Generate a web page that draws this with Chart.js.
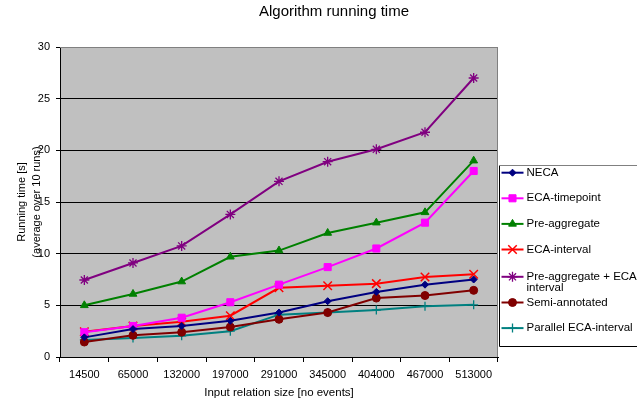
<!DOCTYPE html>
<html>
<head>
<meta charset="utf-8">
<title>Algorithm running time</title>
<script src="https://cdn.jsdelivr.net/npm/chart.js@4/dist/chart.umd.min.js"></script>
<style>
  html, body { margin: 0; padding: 0; background: #ffffff; }
  #wrap { width: 637px; height: 400px; position: relative; }
</style>
</head>
<body>
<div id="wrap"><canvas id="chart" width="637" height="400"></canvas></div>
<script>
// Input sizes (number of events) on the x axis
const inputSizes = ['14500', '65000', '132000', '197000', '291000', '345000', '404000', '467000', '513000'];

// Running times in seconds, averaged over 10 runs
const neca            = [1.9, 2.7, 3.0, 3.5, 4.3, 5.4, 6.3, 7.0, 7.5];
const ecaTimepoint    = [2.4, 3.0, 3.8, 5.3, 7.0, 8.7, 10.5, 13.0, 18.0];
const preAggregate    = [5.0, 6.1, 7.3, 9.7, 10.3, 12.0, 13.0, 14.0, 19.0];
const ecaInterval     = [2.45, 3.0, 3.4, 4.0, 6.7, 6.9, 7.1, 7.75, 8.0];
const preAggEca       = [7.45, 9.1, 10.75, 13.8, 17.0, 18.9, 20.1, 21.75, 27.0];
const semiAnnotated   = [1.45, 2.1, 2.4, 2.9, 3.65, 4.3, 5.7, 5.95, 6.45];
const parallelEca     = [1.65, 1.85, 2.05, 2.5, 4.1, 4.3, 4.55, 4.9, 5.05];

const yTicks = [0, 5, 10, 15, 20, 25, 30];

const FONT = "'Liberation Sans', Arial, sans-serif";

function series(label, data, color, style, radius, bw) {
  return {
    label: label,
    data: data,
    borderColor: color,
    backgroundColor: color,
    borderWidth: 2,
    pointStyle: style,
    pointRadius: radius,
    pointHoverRadius: radius,
    pointBorderWidth: bw,
    pointBorderColor: color,
    pointBackgroundColor: color,
    tension: 0
  };
}

const datasets = [
  series('NECA', neca, '#000080', 'rectRot', 3.5, 1),
  series('ECA-timepoint', ecaTimepoint, '#FF00FF', 'rect', 5, 1),
  series('Pre-aggregate', preAggregate, '#008000', 'triangle', 4.5, 1),
  series('ECA-interval', ecaInterval, '#FF0000', 'crossRot', 6, 1.5),
  series('Pre-aggregate + ECA-interval', preAggEca, '#800080', 'star', 5, 1.3),
  series('Semi-annotated', semiAnnotated, '#800000', 'circle', 4, 1),
  series('Parallel ECA-interval', parallelEca, '#008080', 'cross', 4.5, 1.3)
];

// Grey plot background and the grey top/right frame
const plotFrame = {
  id: 'plotFrame',
  beforeDraw(chart) {
    const { ctx, chartArea: a } = chart;
    ctx.save();
    ctx.fillStyle = '#C0C0C0';
    ctx.fillRect(a.left, a.top, a.right - a.left, a.bottom - a.top);
    ctx.restore();
  },
  beforeDatasetsDraw(chart) {
    const { ctx, chartArea: a } = chart;
    ctx.save();
    ctx.strokeStyle = '#808080';
    ctx.lineWidth = 1;
    ctx.beginPath();
    ctx.moveTo(a.left, a.top + 0.5);
    ctx.lineTo(a.right - 0.5, a.top + 0.5);
    ctx.lineTo(a.right - 0.5, a.bottom);
    ctx.stroke();
    ctx.restore();
  }
};

// Chart title, centred over the whole figure
const figureTitle = {
  id: 'figureTitle',
  afterDraw(chart) {
    const ctx = chart.ctx;
    ctx.save();
    ctx.fillStyle = '#000';
    ctx.font = '15px ' + FONT;
    ctx.textAlign = 'center';
    ctx.textBaseline = 'middle';
    ctx.fillText('Algorithm running time', 334, 11.5);
    ctx.restore();
  }
};

function wrapText(ctx, text, maxWidth) {
  if (ctx.measureText(text).width <= maxWidth) return [text];
  const parts = text.split(/(?<=[ -])/);
  const lines = [];
  let cur = '';
  for (const p of parts) {
    if (cur && ctx.measureText(cur + p).width > maxWidth) {
      lines.push(cur);
      cur = p;
    } else {
      cur += p;
    }
  }
  if (cur) lines.push(cur);
  return lines;
}

// Boxed legend to the right of the plot
const sideLegend = {
  id: 'sideLegend',
  afterDraw(chart) {
    const ctx = chart.ctx;
    const left = chart.chartArea.right + 1.5;
    const top = 165.5;
    const bottom = 346.5;
    ctx.save();
    ctx.fillStyle = '#fff';
    ctx.fillRect(left, top, 200, bottom - top);
    ctx.strokeStyle = '#000';
    ctx.lineWidth = 1;
    ctx.beginPath();
    ctx.moveTo(left, top);
    ctx.lineTo(left, bottom);
    ctx.lineTo(700, bottom);
    ctx.stroke();
    ctx.strokeStyle = '#808080';
    ctx.beginPath();
    ctx.moveTo(left, top);
    ctx.lineTo(700, top);
    ctx.stroke();

    ctx.font = '11.5px ' + FONT;
    ctx.textBaseline = 'middle';
    ctx.textAlign = 'left';
    let y = 172.7;
    chart.data.datasets.forEach((ds) => {
      const lines = wrapText(ctx, ds.label, 120);
      const yy = y + (lines.length > 1 ? 1.7 : 0);
      ctx.strokeStyle = ds.borderColor;
      ctx.lineWidth = 2;
      ctx.beginPath();
      ctx.moveTo(left + 2, yy);
      ctx.lineTo(left + 24, yy);
      ctx.stroke();
      ctx.fillStyle = ds.pointBackgroundColor;
      ctx.strokeStyle = ds.pointBorderColor;
      ctx.lineWidth = ds.pointBorderWidth;
      Chart.helpers.drawPoint(ctx, {
        pointStyle: ds.pointStyle,
        radius: ds.pointRadius,
        rotation: 0,
        borderWidth: ds.pointBorderWidth
      }, left + 13, yy);
      ctx.fillStyle = '#000';
      lines.forEach((ln, i) => ctx.fillText(ln, left + 27, yy + i * 11));
      y += 25.6 + (lines.length > 1 ? 1.8 : 0);
    });
    ctx.restore();
  }
};

new Chart(document.getElementById('chart'), {
  type: 'line',
  data: { labels: inputSizes, datasets: datasets },
  options: {
    responsive: false,
    animation: false,
    events: [],
    layout: { padding: { top: 47, right: 139, left: 0, bottom: 0 } },
    plugins: {
      legend: { display: false },
      title: { display: false },
      tooltip: { enabled: false }
    },
    scales: {
      x: {
        type: 'category',
        offset: true,
        afterFit(scale) { scale.height = 43; },
        grid: {
          offset: true,
          drawOnChartArea: false,
          drawTicks: true,
          tickLength: 5,
          tickColor: '#000',
          tickWidth: 1
        },
        border: { display: true, color: '#000', width: 1 },
        ticks: {
          color: '#000',
          font: { family: FONT, size: 11 },
          padding: 6,
          maxRotation: 0,
          autoSkip: false
        },
        title: {
          display: true,
          text: 'Input relation size [no events]',
          color: '#000',
          font: { family: FONT, size: 11.5 },
          padding: { top: 0, bottom: 0.5 }
        }
      },
      y: {
        min: 0,
        max: 30,
        afterFit(scale) { scale.width = 60; },
        afterBuildTicks(scale) { scale.ticks = yTicks.map(v => ({ value: v })); },
        grid: {
          color: (c) => (c.tick && c.tick.value === 30 ? '#808080' : '#000'),
          lineWidth: 1,
          drawTicks: true,
          tickLength: 4,
          tickColor: '#000'
        },
        border: { display: true, color: '#000', width: 1 },
        ticks: {
          color: '#000',
          font: { family: FONT, size: 11 },
          padding: 6
        },
        title: {
          display: true,
          text: ['Running time [s]', '(average over 10 runs)'],
          color: '#000',
          font: { family: FONT, size: 11, lineHeight: '15px' },
          padding: { top: 14.5, bottom: 0 }
        }
      }
    }
  },
  plugins: [plotFrame, figureTitle, sideLegend]
});
</script>
</body>
</html>
